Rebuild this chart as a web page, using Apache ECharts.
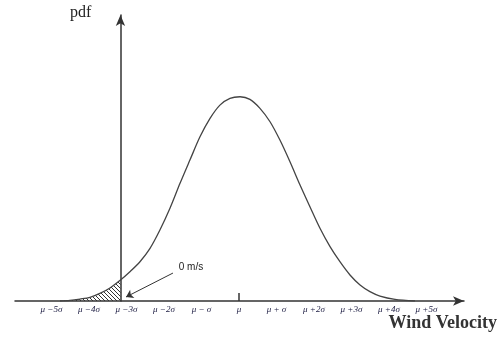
<!DOCTYPE html>
<html><head><meta charset="utf-8">
<script src="https://cdn.jsdelivr.net/npm/echarts@6/dist/echarts.min.js"></script>
<style>html,body{margin:0;padding:0;background:#fff}#c{width:502px;height:338px}</style>
</head><body><div id="c"></div>
<script>
// Wind velocity (m/s) and pdf values
var mu = 7.9, sigma = 2.5;
var windVelocity = [-4.03, -3.37, -2.7, -2.03, -1.37, -0.7, 0, 0.63, 1.3, 1.97, 2.63, 3.3, 3.97, 4.63, 5.3, 5.97, 6.63, 7.3, 7.97, 8.63, 9.3, 9.97, 10.63, 11.3, 11.97, 12.63, 13.3, 13.97, 14.63, 15.3, 15.97, 16.63, 17.3, 18.3, 19.63];
var pdfValues    = [0, 0.0005, 0.0015, 0.0028, 0.0058, 0.0100, 0.0161, 0.0225, 0.0302, 0.0405, 0.0546, 0.0713, 0.0905, 0.1084, 0.1263, 0.1405, 0.1507, 0.1559, 0.1571, 0.1551, 0.1482, 0.1379, 0.1238, 0.1071, 0.0892, 0.0725, 0.0559, 0.0418, 0.0302, 0.0200, 0.0123, 0.0072, 0.0038, 0.0013, 0];
var sigmaSteps = [-5, -4, -3, -2, -1, 0, 1, 2, 3, 4, 5];
var tickLabels = ['\u03bc \u22125\u03c3', '\u03bc \u22124\u03c3', '\u03bc \u22123\u03c3', '\u03bc \u22122\u03c3', '\u03bc \u2212 \u03c3', '\u03bc', '\u03bc + \u03c3', '\u03bc +2\u03c3', '\u03bc +3\u03c3', '\u03bc +4\u03c3', '\u03bc +5\u03c3'];
var xTitle = 'Wind Velocity', yTitle = 'pdf', zeroLabel = '0 m/s';
var arrowFrom = [3.5, 0.0215], arrowTo = [0.37, 0.0031], zeroLabelAt = [4.7, 0.026];

var curve = windVelocity.map(function (v, i) { return [v, pdfValues[i]]; });
var tail = curve.filter(function (p) { return p[0] <= 0; });
var tickValues = sigmaSteps.map(function (k) { return mu + k * sigma; });

var cv = document.createElement('canvas');
cv.width = 4; cv.height = 4;
var g = cv.getContext('2d');
g.strokeStyle = '#333'; g.lineWidth = 1;
g.beginPath(); g.moveTo(-1, -1); g.lineTo(5, 5); g.moveTo(-1, 3); g.lineTo(1, 5); g.moveTo(3, -1); g.lineTo(5, 1); g.stroke();

var chart = echarts.init(document.getElementById('c'));
chart.setOption({
  animation: false,
  grid: { left: 15, right: 38, top: 15, bottom: 37, outerBoundsMode: 'none', containLabel: false },
  xAxis: {
    type: 'value', min: -7.03, max: 22.9,
    splitLine: { show: false },
    axisLine: { show: true, onZero: true, symbol: ['none', 'arrow'], symbolSize: [7, 11], lineStyle: { color: '#333', width: 1.5 } },
    axisTick: { show: true, customValues: [mu], inside: true, length: 8, lineStyle: { color: '#333', width: 1.5 } },
    axisLabel: {
      customValues: tickValues, margin: 4,
      fontFamily: 'Liberation Serif', fontStyle: 'italic', fontSize: 9, color: '#1a1a40',
      formatter: function (v) { return tickLabels[Math.round((v - mu) / sigma) + 5]; }
    }
  },
  yAxis: {
    type: 'value', min: 0, max: 0.22,
    splitLine: { show: false },
    axisLine: { show: true, onZero: true, symbol: ['none', 'arrow'], symbolSize: [7, 11], lineStyle: { color: '#333', width: 1.5 } },
    axisTick: { show: false }, axisLabel: { show: false }
  },
  graphic: [
    { type: 'text', left: 70, top: 5, style: { text: yTitle, font: '16px "Liberation Serif"', fill: '#222' } },
    { type: 'text', right: 5, top: 314, style: { text: xTitle, font: 'bold 18px "Liberation Serif"', fill: '#333' } }
  ],
  series: [
    {
      type: 'line', data: tail, smooth: 0.3, symbol: 'none',
      lineStyle: { width: 0 },
      areaStyle: { color: { image: cv, repeat: 'repeat' }, opacity: 1 },
      z: 1
    },
    {
      type: 'line', data: curve, smooth: 0.3, symbol: 'none',
      lineStyle: { color: '#444', width: 1.3 },
      z: 3,
      markLine: {
        silent: true, symbol: ['none', 'arrow'], symbolSize: 7,
        lineStyle: { color: '#333', width: 1, type: 'solid' },
        label: { show: false },
        data: [[{ coord: arrowFrom }, { coord: arrowTo }]]
      },
      markPoint: {
        symbol: 'circle', symbolSize: 0,
        label: { show: true, formatter: zeroLabel, fontFamily: 'Liberation Sans', fontSize: 10, color: '#222' },
        data: [{ coord: zeroLabelAt }]
      }
    }
  ]
});
</script>
</body></html>
